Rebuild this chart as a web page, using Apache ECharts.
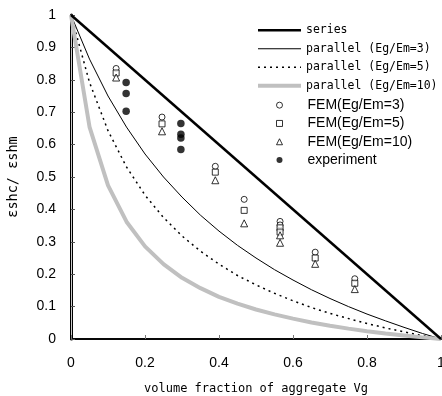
<!DOCTYPE html>
<html>
<head>
<meta charset="utf-8">
<script src="https://cdn.jsdelivr.net/npm/echarts@6/dist/echarts.min.js"></script>
<style>html,body{margin:0;padding:0;background:#fff}#c{width:442px;height:396px}</style>
</head>
<body>
<div id="c"></div>
<script>
// x positions of model curves
const xVals = [0,0.05,0.1,0.15,0.2,0.25,0.3,0.35,0.4,0.45,0.5,0.55,0.6,0.65,0.7,0.75,0.8,0.85,0.9,0.95,1];
const seriesModel = [[0,1],[1,0]];
const parallel3 = [1,0.864,0.75,0.654,0.571,0.5,0.438,0.382,0.333,0.289,0.25,0.214,0.182,0.152,0.125,0.1,0.077,0.056,0.036,0.017,0];
const parallel5 = [1,0.792,0.643,0.531,0.444,0.375,0.318,0.271,0.231,0.196,0.167,0.141,0.118,0.097,0.079,0.063,0.048,0.034,0.022,0.010,0];
const parallel10 = [1,0.655,0.474,0.362,0.286,0.231,0.189,0.157,0.130,0.109,0.091,0.076,0.063,0.051,0.041,0.032,0.024,0.017,0.011,0.005,0];
const fem3 = [[0.122,0.835],[0.246,0.685],[0.39,0.533],[0.468,0.431],[0.565,0.363],[0.565,0.352],[0.66,0.268],[0.767,0.186]];
const fem5 = [[0.122,0.821],[0.246,0.664],[0.39,0.515],[0.468,0.397],[0.565,0.343],[0.565,0.330],[0.66,0.25],[0.767,0.172]];
const fem10 = [[0.122,0.807],[0.246,0.641],[0.39,0.49],[0.468,0.357],[0.565,0.320],[0.565,0.297],[0.66,0.232],[0.767,0.154]];
const experiment = [[0.149,0.792],[0.149,0.758],[0.149,0.703],[0.297,0.665],[0.297,0.632],[0.297,0.62],[0.297,0.585]];
const xTicks = {min:0, max:1, interval:0.2};
const yTicks = {min:0, max:1, interval:0.1};
const names = ['series','parallel (Eg/Em=3)','parallel (Eg/Em=5)','parallel (Eg/Em=10)','FEM(Eg/Em=3)','FEM(Eg/Em=5)','FEM(Eg/Em=10)','experiment'];

const zip = (ys) => xVals.map((x,i)=>[x, ys[i]]);
const chart = echarts.init(document.getElementById('c'), null, {renderer:'canvas'});
const mono = 'DejaVu Sans Mono';
const sans = 'Liberation Sans';
const lineWidths = [2.5, 1, 1.5, 4];
chart.setOption({
  animation:false,
  backgroundColor:'#fff',
  grid:{left:71, right:1, top:15, bottom:57, outerBoundsMode:'none', containLabel:false},
  legend:[{
    data:names.slice(0,4).map((n,i)=>({name:n, lineStyle:{width:lineWidths[i]}})),
    orient:'vertical', left:256, top:19,
    itemWidth:43, itemHeight:14, itemGap:0,
    itemStyle:{opacity:0},
    textStyle:{fontFamily:mono, fontSize:11.5, color:'#000', lineHeight:18.5},
    backgroundColor:'#fff', padding:[2,0,2,0]
  },{
    data:names.slice(4), orient:'vertical', left:276, top:96,
    itemWidth:6, itemHeight:6, itemGap:0,
    itemStyle:{borderWidth:1},
    textStyle:{fontFamily:sans, fontSize:14, color:'#000', lineHeight:18.3, padding:[0,0,0,20]},
    backgroundColor:'#fff', padding:[0,0,28,0]
  }],
  xAxis:[{
    type:'value', min:xTicks.min, max:xTicks.max, interval:xTicks.interval,
    name:'volume fraction of aggregate Vg', nameLocation:'middle', nameGap:44,
    nameTextStyle:{fontFamily:mono, fontSize:12, color:'#000'},
    axisLine:{lineStyle:{color:'#222', width:2}},
    axisTick:{inside:true, length:4, lineStyle:{color:'#777'}},
    axisLabel:{fontFamily:sans, fontSize:14, color:'#000', margin:17, formatter:v=>String(+v.toFixed(1))},
    splitLine:{show:false}
  },{
    type:'value', position:'top', min:0, max:1,
    axisLine:{show:true, lineStyle:{color:'#000', width:1.5}},
    axisTick:{show:false}, axisLabel:{show:false}, splitLine:{show:false}
  }],
  yAxis:[{
    type:'value', min:yTicks.min, max:yTicks.max, interval:yTicks.interval,
    name:'εshc/ εshm', nameLocation:'middle', nameGap:51, nameRotate:90,
    nameTextStyle:{fontFamily:mono, fontSize:13.5, color:'#000'},
    axisLine:{show:true, lineStyle:{color:'#000', width:3}},
    axisTick:{show:true, inside:true, length:4, lineStyle:{color:'#555'}},
    axisLabel:{fontFamily:sans, fontSize:14, color:'#000', margin:15, formatter:v=>String(+v.toFixed(1))},
    splitLine:{show:false}
  },{
    type:'value', position:'right', min:0, max:1,
    axisLine:{show:true, lineStyle:{color:'#ccc', width:1}},
    axisTick:{show:false}, axisLabel:{show:false}, splitLine:{show:false}
  }],
  series:[
    {name:names[0], type:'line', data:seriesModel, symbol:'none', lineStyle:{color:'#000', width:2.5}, itemStyle:{color:'#000'}, z:5},
    {name:names[1], type:'line', data:zip(parallel3), symbol:'none', lineStyle:{color:'#000', width:1}, itemStyle:{color:'#000'}},
    {name:names[2], type:'line', data:zip(parallel5), symbol:'none', lineStyle:{color:'#000', width:1.5, type:[2,4]}, itemStyle:{color:'#000'}},
    {name:names[3], type:'line', data:zip(parallel10), symbol:'none', lineStyle:{color:'#c0c0c0', width:4}, itemStyle:{color:'#c0c0c0'}},
    {name:names[4], type:'scatter', data:fem3, symbol:'circle', symbolSize:6, itemStyle:{color:'#fff', borderColor:'#000', borderWidth:1}, z:6},
    {name:names[5], type:'scatter', data:fem5, symbol:'rect', symbolSize:6, itemStyle:{color:'#fff', borderColor:'#000', borderWidth:1}, z:6},
    {name:names[6], type:'scatter', data:fem10, symbol:'triangle', symbolSize:7, itemStyle:{color:'#fff', borderColor:'#000', borderWidth:1}, z:6},
    {name:names[7], type:'scatter', data:experiment, symbol:'circle', symbolSize:7.5, itemStyle:{color:'#000'}, z:7}
  ]
});
</script>
</body>
</html>
